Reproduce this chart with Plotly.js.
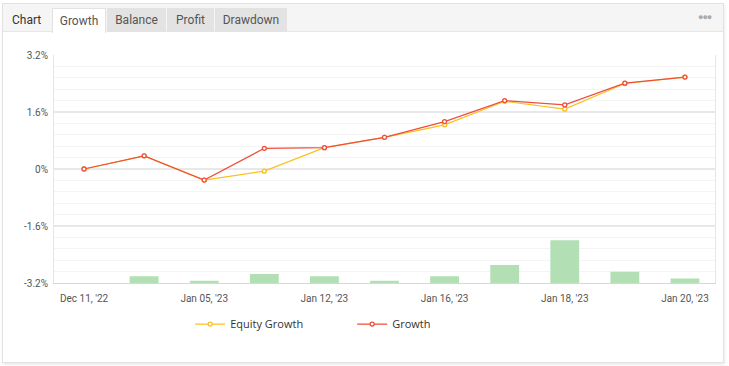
<!DOCTYPE html>
<html>
<head>
<meta charset="utf-8">
<script src="https://cdn.plot.ly/plotly-3.0.1.min.js"></script>
<style>
  html, body { margin: 0; padding: 0; background: #ffffff; width: 729px; height: 366px; overflow: hidden; }
  #card { position: absolute; left: 2px; top: 3px; width: 720px; height: 358px; border: 1px solid #e2e2e2; background: #fff; box-shadow: 1px 2px 3px rgba(0,0,0,0.08); }
  #head { position: absolute; left: 0; top: 0; width: 720px; height: 27px; background: #f5f5f5; border-bottom: 1px solid #e6e6e6; }
  .tab { position: absolute; top: 4px; height: 24px; line-height: 24px; font-family: Roboto, sans-serif; font-size: 12px; color: #555; text-align: center; background: #e3e3e3; }
  #chartlbl { position: absolute; left: 9px; top: 4px; height: 24px; line-height: 24px; font-family: Roboto, sans-serif; font-size: 12px; color: #333; }
  #dots { position: absolute; left: 695px; top: 8px; font-family: Roboto, sans-serif; font-size: 9px; color: #aaa; letter-spacing: -1px; }
  #plot { position: absolute; left: 0; top: 0; width: 729px; height: 366px; }
</style>
</head>
<body>
<div id="card">
  <div id="head">
    <div id="chartlbl">Chart</div>
    <div class="tab" style="left:49px;width:52px;background:#fff;border:1px solid #e2e2e2;border-bottom:none;height:24px;">Growth</div>
    <div class="tab" style="left:104px;width:59px;">Balance</div>
    <div class="tab" style="left:164px;width:47px;">Profit</div>
    <div class="tab" style="left:212px;width:72px;">Drawdown</div>
    <div id="dots">&#9679;&#9679;&#9679;</div>
  </div>
</div>
<div id="plot"></div>
<script>
// ---- data ----
const categories = ["Dec 11, '22", "Dec 30, '22", "Jan 05, '23", "Jan 10, '23", "Jan 12, '23", "Jan 13, '23",
                    "Jan 16, '23", "Jan 17, '23", "Jan 18, '23", "Jan 19, '23", "Jan 20, '23"];
const growth       = [0, 0.37, -0.31, 0.58, 0.60, 0.89, 1.33, 1.92, 1.80, 2.41, 2.58];
const equityGrowth = [0, 0.37, -0.31, -0.06, 0.60, 0.89, 1.24, 1.90, 1.68, 2.40, 2.58];
const deals        = [0, 3, 1, 4, 3, 1, 3, 8, 19, 5, 2];
const yTickVals    = [-3.2, -1.6, 0, 1.6, 3.2];
const yTickText    = ["-3.2%", "-1.6%", "0%", "1.6%", "3.2%"];

const idx = categories.map((_, i) => i);
const labelIdx = idx.filter(i => i % 2 === 0);
const gridIdx = idx.filter(i => i % 2 === 0 && i < categories.length - 1).map(i => i + 0.5);

const RED = '#ef4e3a';
const YEL = '#fcc01e';

const traces = [
  { type: 'bar', x: idx, y: deals, xaxis: 'x', yaxis: 'y2', width: 0.48,
    marker: { color: '#b3dfb4' }, showlegend: false, hoverinfo: 'skip' },
  { type: 'scatter', mode: 'lines+markers', name: 'Equity Growth', x: idx, y: equityGrowth,
    line: { color: YEL, width: 1.2 },
    marker: { symbol: 'circle', size: 4, color: '#ffffff', line: { color: YEL, width: 1.3 } } },
  { type: 'scatter', mode: 'lines+markers', name: 'Growth', x: idx, y: growth,
    line: { color: RED, width: 1.2 },
    marker: { symbol: 'circle', size: 4, color: '#ffffff', line: { color: RED, width: 1.3 } } }
];

const tickFont = { family: 'Roboto, sans-serif', size: 10, color: '#555' };

const layout = {
  width: 729, height: 366,
  margin: { l: 54, r: 14, t: 55, b: 83 },
  paper_bgcolor: 'rgba(0,0,0,0)', plot_bgcolor: 'rgba(0,0,0,0)',
  showlegend: true,
  legend: { orientation: 'h', x: 0.206, xanchor: 'left', y: -0.18, yanchor: 'middle',
            entrywidth: 117, font: { family: 'Open Sans, sans-serif', size: 11, color: '#333' },
            bgcolor: 'rgba(0,0,0,0)' },
  xaxis: { type: 'linear', range: [-0.5, categories.length - 0.5], tickmode: 'array',
           tickvals: labelIdx, ticktext: labelIdx.map(i => categories[i]),
           showgrid: false, zeroline: false, showline: true, linecolor: '#d6d6de', linewidth: 1,
           ticks: 'outside', ticklen: 6, tickcolor: 'rgba(0,0,0,0)', tickfont: tickFont, fixedrange: true },
  xaxis2: { overlaying: 'x', anchor: 'y', type: 'linear', range: [-0.5, categories.length - 0.5],
            tickmode: 'array', tickvals: gridIdx, showticklabels: false, showgrid: true,
            gridcolor: '#ebebeb', gridwidth: 1, zeroline: false, showline: true, mirror: true,
            linecolor: '#e6e6e6', ticks: '' },
  yaxis: { range: [-3.2, 3.2], tickmode: 'array', tickvals: yTickVals, ticktext: yTickText,
           showgrid: true, gridcolor: '#e8e8e8', gridwidth: 1.5, zeroline: false,
           showline: true, mirror: true, linecolor: '#e6e6e6',
           minor: { dtick: 0.32, tick0: -3.2, showgrid: true, gridcolor: '#f4f4f4', gridwidth: 1, ticks: '' },
           ticks: 'outside', ticklen: 3, tickcolor: 'rgba(0,0,0,0)', tickfont: tickFont, fixedrange: true },
  yaxis2: { overlaying: 'y', range: [0, 101.3], visible: false, fixedrange: true },
  hovermode: false
};

Plotly.newPlot('plot', traces, layout, { displayModeBar: false, staticPlot: true });
</script>
</body>
</html>
